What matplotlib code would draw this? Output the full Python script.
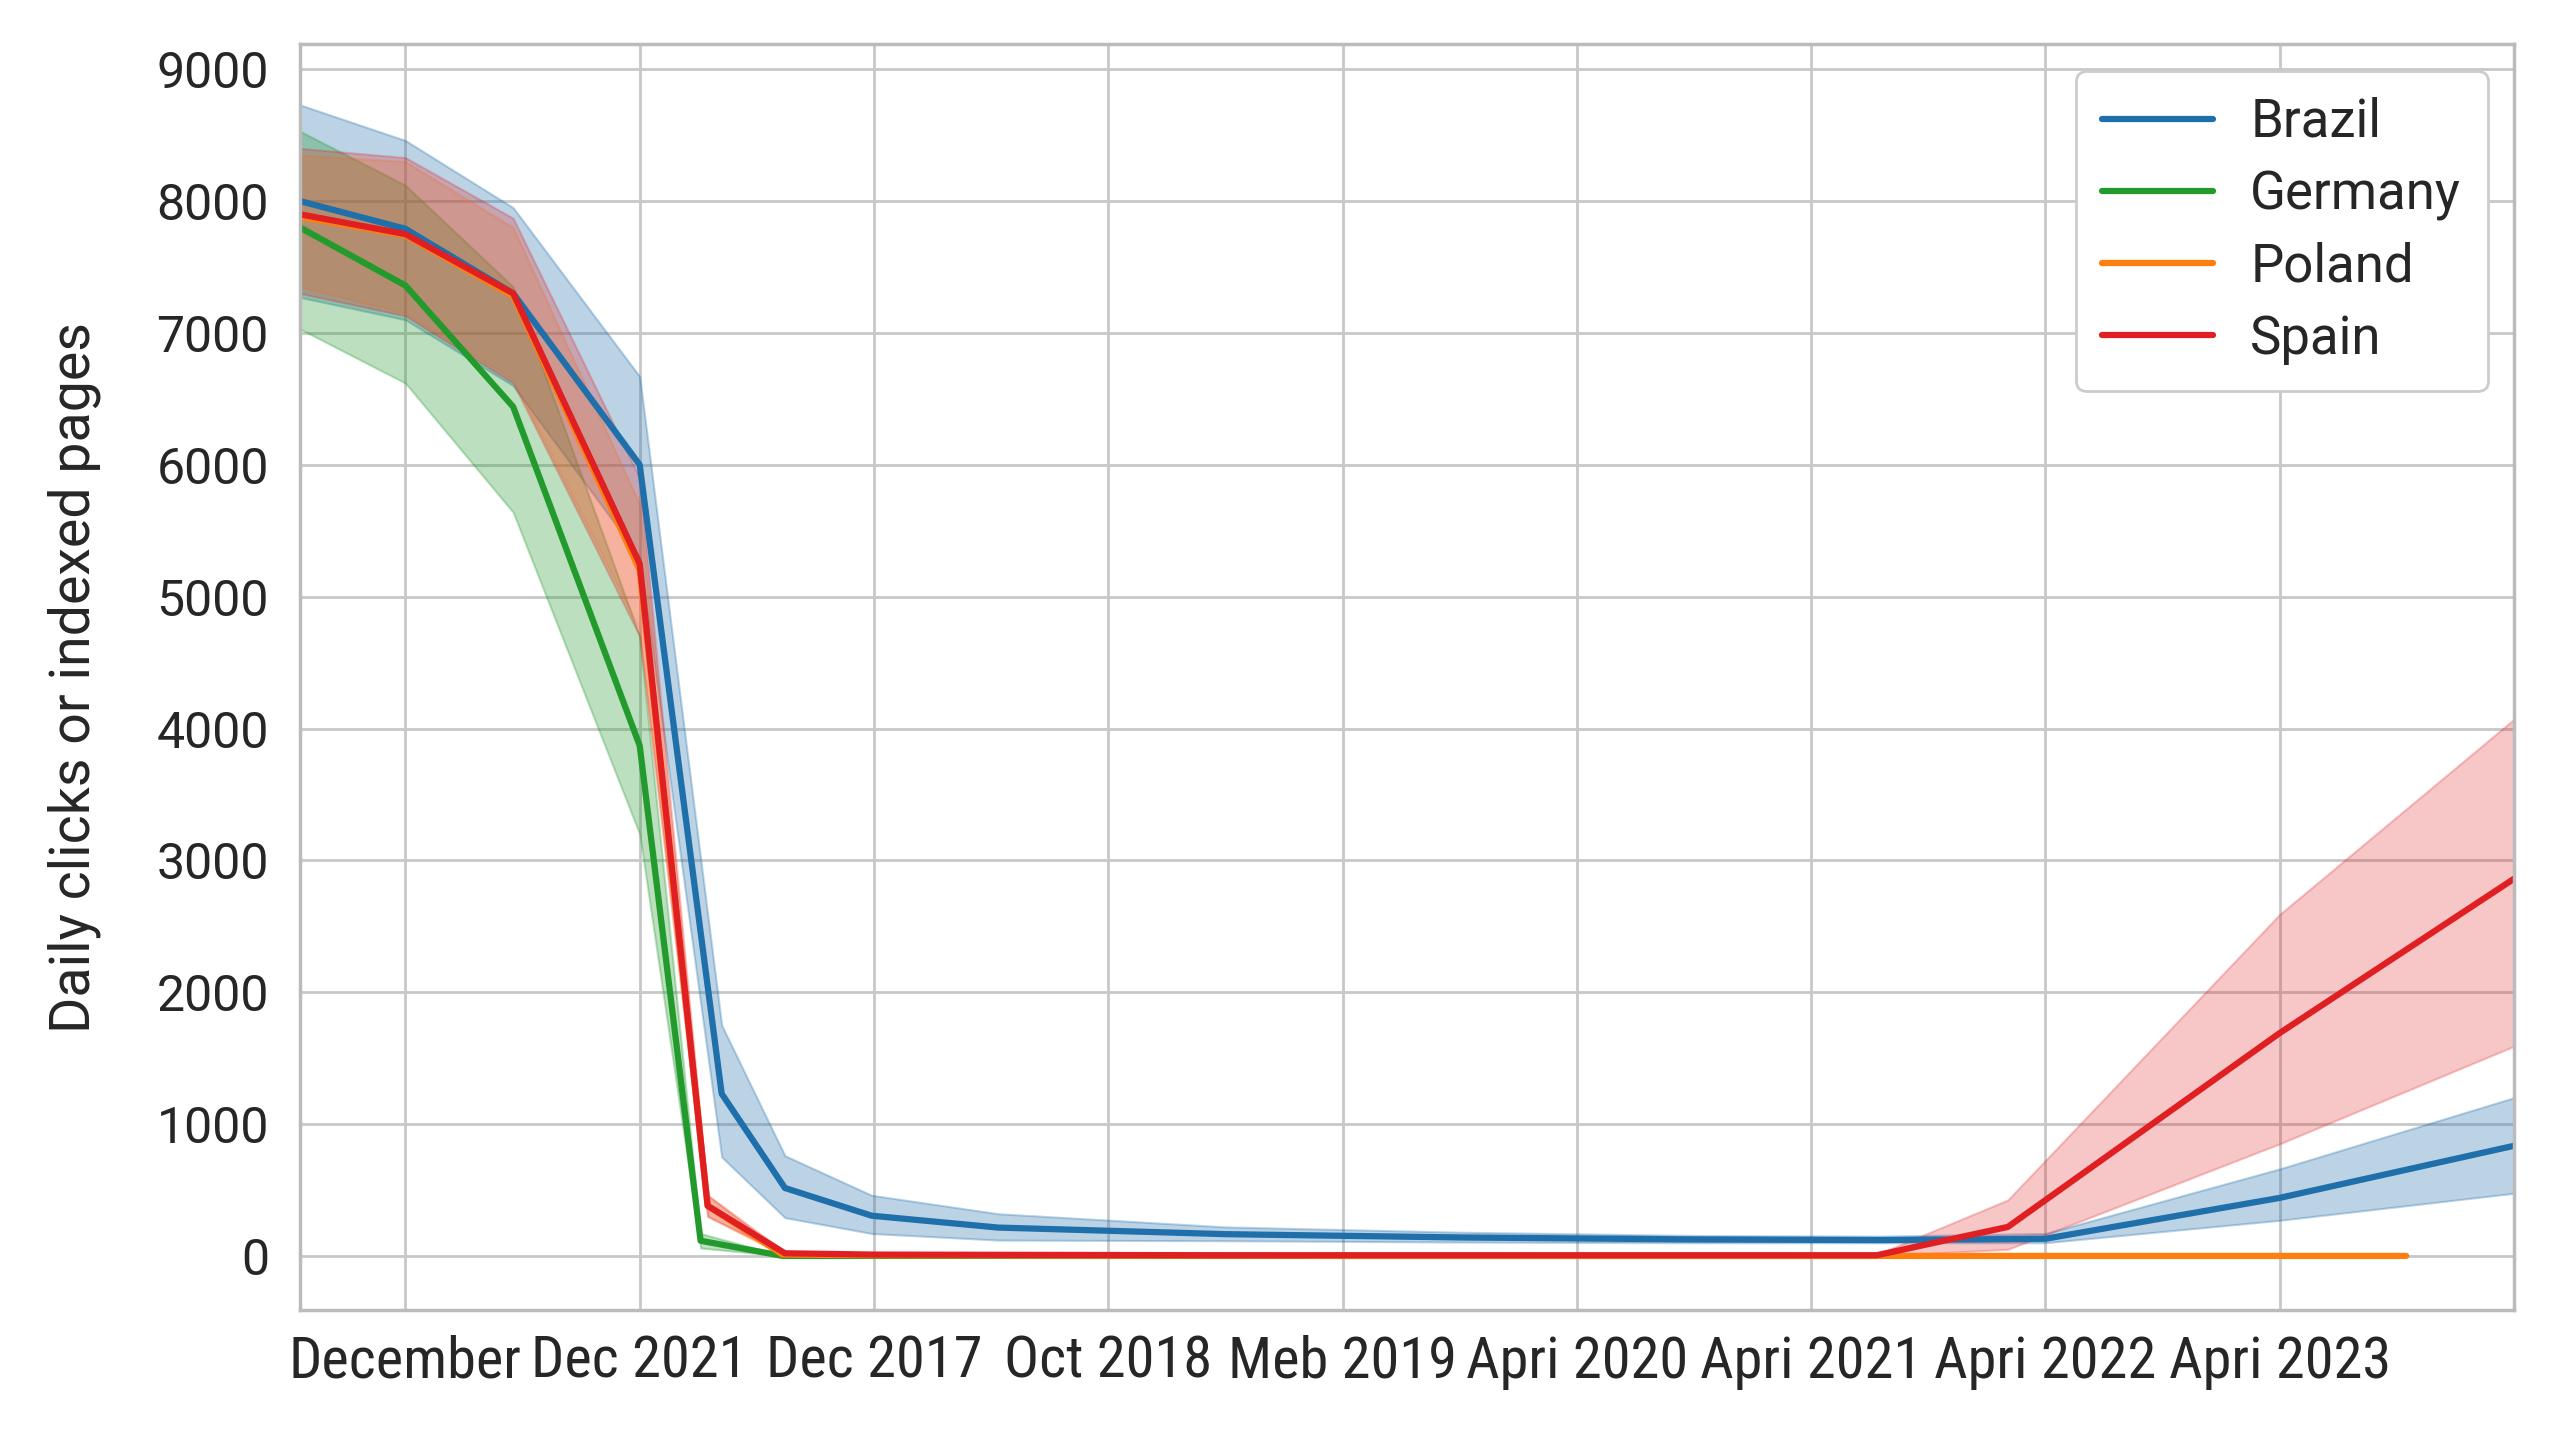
import matplotlib
matplotlib.use("Agg")
import matplotlib.pyplot as plt
from matplotlib import font_manager
import seaborn as sns

sns.set_style("whitegrid")
plt.rcParams['font.family'] = ['Roboto', 'DejaVu Sans']

# look for a narrow face for the date labels
names = {f.name for f in font_manager.fontManager.ttflist}
narrow = None
for cand in ['Liberation Sans Narrow', 'Roboto Condensed', 'DejaVu Sans Condensed',
             'Open Sans Condensed', 'Noto Sans Condensed']:
    if cand in names:
        narrow = cand
        break
condensed = [f for f in font_manager.fontManager.ttflist
             if f.stretch in ('condensed', 'semi-condensed', 'extra-condensed')]

# tick labels as they appear on the chart
tick_pos = [1, 2, 3, 4, 5, 6, 7, 8, 9]
tick_labels = ['December', 'Dec 2021', 'Dec 2017', 'Oct 2018', 'Meb 2019',
               'Apri 2020', 'Apri 2021', 'Apri 2022', 'Apri 2023']

# Brazil
brazil_x = [0.55, 1.0, 1.46, 2.0, 2.35, 2.62, 2.99, 3.53, 4.5, 5.5, 6.5, 7.3, 8.0, 9.0, 10.0]
brazil_y = [8000, 7790, 7300, 6000, 1230, 515, 305, 215, 165, 140, 125, 120, 130, 440, 835]
brazil_lo = [7270, 7100, 6600, 5300, 750, 290, 170, 120, 115, 105, 100, 100, 100, 270, 475]
brazil_hi = [8730, 8460, 7950, 6670, 1750, 760, 460, 320, 220, 180, 155, 150, 170, 660, 1200]

# Germany
germany_x = [0.55, 1.0, 1.46, 2.0, 2.26, 2.61, 3.0, 5.0, 7.28]
germany_y = [7800, 7360, 6440, 3870, 115, 0, 0, 0, 0]
germany_lo = [7030, 6620, 5640, 3200, 60, 0, 0, 0, 0]
germany_hi = [8530, 8120, 7350, 4700, 170, 0, 0, 0, 0]

# Poland
poland_x = [0.55, 1.0, 1.46, 2.0, 2.29, 2.61, 3.0, 5.0, 7.28, 8.5, 9.54]
poland_y = [7880, 7740, 7280, 5200, 380, 10, 5, 0, 0, 0, 0]
poland_lo = [7350, 7150, 6650, 4750, 300, 5, 0, 0, 0, 0, 0]
poland_hi = [8350, 8300, 7800, 5700, 460, 20, 10, 0, 0, 0, 0]

# Spain
spain_x = [0.55, 1.0, 1.46, 2.0, 2.29, 2.62, 3.0, 4.5, 6.0, 7.28, 7.84, 9.0, 10.0]
spain_y = [7900, 7750, 7300, 5250, 380, 20, 10, 5, 5, 5, 220, 1690, 2860]
spain_lo = [7300, 7130, 6620, 4700, 300, 10, 5, 0, 0, 0, 50, 850, 1590]
spain_hi = [8400, 8330, 7870, 5900, 460, 30, 15, 10, 10, 10, 425, 2590, 4070]

series = [
    ('Brazil', '#1f6fab', 0.3, brazil_x, brazil_y, brazil_lo, brazil_hi),
    ('Germany', '#229a2c', 0.3, germany_x, germany_y, germany_lo, germany_hi),
    ('Poland', '#ff7f0e', 0.22, poland_x, poland_y, poland_lo, poland_hi),
    ('Spain', '#e01f22', 0.25, spain_x, spain_y, spain_lo, spain_hi),
]

fig = plt.figure(figsize=(25.6, 14.4), dpi=100)
ax = fig.add_axes([0.117, 0.0903, 0.865, 0.879])

for name, col, a, x, y, lo, hi in series:
    ax.fill_between(x, lo, hi, color=col, alpha=a, linewidth=1.5)
for name, col, a, x, y, lo, hi in series:
    ax.plot(x, y, color=col, lw=4.5, label=name, solid_capstyle='round')

ax.set_xlim(0.548, 10.0)
ax.set_ylim(-410, 9190)
ax.set_yticks(range(0, 9001, 1000))
ax.set_xticks(tick_pos)
if narrow is not None:
    ax.set_xticklabels(tick_labels, family=narrow, fontsize=42)
elif condensed:
    ax.set_xticklabels(tick_labels, fontproperties=font_manager.FontProperties(
        fname=condensed[0].fname, size=40))
else:
    ax.set_xticklabels(tick_labels, family=['Liberation Sans'], fontsize=34.5)
ax.tick_params(axis='x', pad=18, length=0)
ax.tick_params(axis='y', labelsize=36, pad=22, length=0)
ax.set_ylabel('Daily clicks or indexed pages', fontsize=40, labelpad=40)

ax.grid(True, color='#c8c8c8', lw=2)
for s in ax.spines.values():
    s.set_color('#bbbbbb')
    s.set_linewidth(2.5)

leg = ax.legend(loc='upper right', fontsize=38, handlelength=2.1, handletextpad=0.7,
                labelspacing=0.4, borderaxespad=0.5, borderpad=0.5, framealpha=1)
leg.get_frame().set_edgecolor('#cccccc')
leg.get_frame().set_linewidth(2)

fig.savefig('out.png', dpi=100)
